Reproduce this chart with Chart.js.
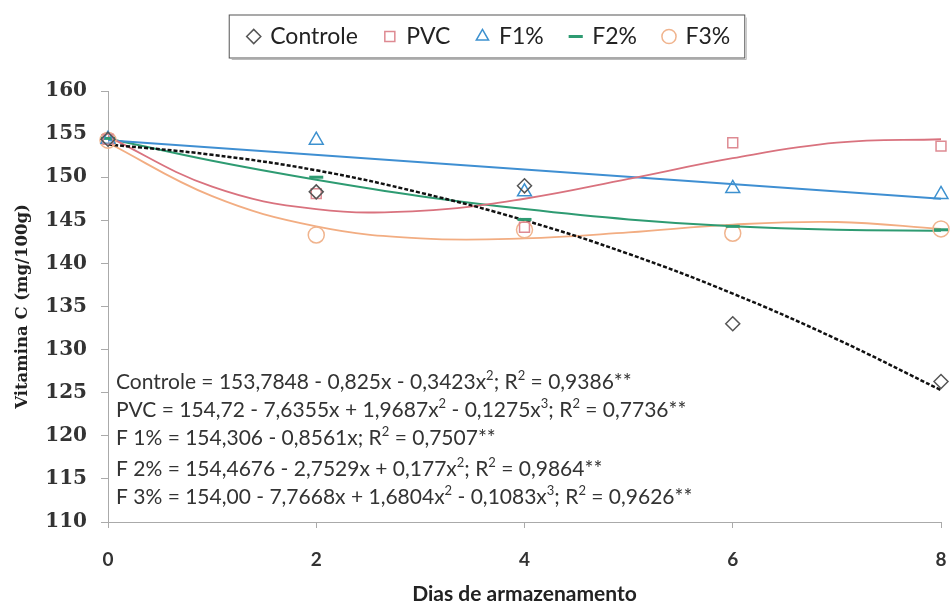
<!DOCTYPE html>
<html>
<head>
<meta charset="utf-8">
<script src="https://cdn.jsdelivr.net/npm/chart.js@4"></script>
<style>
  html, body { margin: 0; padding: 0; background: #fff; }
  #wrap { width: 951px; height: 607px; }
</style>
</head>
<body>
<div id="wrap"><canvas id="chart"></canvas></div>
<script>
// Observed values (days of storage)
const days = [0, 2, 4, 6, 8];
const controle = [154.4, 148.3, 149.0, 133.0, 126.3];
const pvc = [154.4, 148.1, 144.2, 154.0, 153.6];
const f1 = [154.4, 154.3, 148.3, 148.7, 148.0];
const f2 = [154.5, 150.0, 145.1, 144.3, 143.9];
const f3 = [154.3, 143.3, 143.9, 143.5, 144.0];

// Trend curves at each day
const trendDays = [0, 1, 2, 3, 4, 5, 6, 7, 8];
const controleFit = [153.8, 152.6, 150.8, 148.2, 145.0, 141.1, 136.5, 131.2, 125.3];
const pvcFit = [154.7, 148.9, 146.3, 146.1, 147.5, 149.8, 152.2, 154.0, 154.4];
const f1Days = [0, 8];
const f1Fit = [154.3, 147.5];
const f2Fit = [154.5, 151.9, 149.7, 147.8, 146.3, 145.1, 144.3, 143.9, 143.8];
const f3Fit = [154.0, 147.8, 144.3, 142.9, 142.9, 143.6, 144.5, 144.8, 144.0];

const yTicks = [110, 115, 120, 125, 130, 135, 140, 145, 150, 155, 160];

const equations = [
    'Controle = 153,7848 - 0,825x - 0,3423x^2; R^2 = 0,9386**',
    'PVC = 154,72 - 7,6355x + 1,9687x^2 - 0,1275x^3; R^2 = 0,7736**',
    'F 1% = 154,306 - 0,8561x; R^2 = 0,7507**',
    'F 2% = 154,4676 - 2,7529x + 0,177x^2; R^2 = 0,9864**',
    'F 3% = 154,00 - 7,7668x + 1,6804x^2 - 0,1083x^3; R^2 = 0,9626**'
];

const legendShift = 12;

function pts(xs, ys) {
    return xs.map((x, i) => ({ x: x, y: ys[i] }));
}

function markerSet(label, values, style, color, size, width) {
    return {
        label: label,
        data: pts(days, values),
        showLine: false,
        clip: false,
        pointStyle: style,
        pointRadius: size,
        pointBorderColor: color,
        pointBackgroundColor: 'rgba(255,255,255,0)',
        pointBorderWidth: width,
        borderColor: color,
        backgroundColor: 'rgba(255,255,255,0)'
    };
}

function trendSet(xs, values, color, width, dash) {
    return {
        label: '',
        data: pts(xs, values),
        showLine: true,
        pointRadius: 0,
        borderColor: color,
        borderWidth: width,
        borderDash: dash || [],
        tension: 0.4,
        fill: false
    };
}

// Equations block inside the plot area
const equationPlugin = {
    id: 'equations',
    afterDatasetsDraw(chart) {
        const ctx = chart.ctx;
        const area = chart.chartArea;
        const offsets = [133, 105, 77, 46, 18];
        ctx.save();
        ctx.fillStyle = '#333';
        ctx.textBaseline = 'alphabetic';
        equations.forEach((line, i) => {
            let x = area.left + 8;
            const y = area.bottom - offsets[i];
            const parts = line.split(/\^(\d)/);
            parts.forEach((p, j) => {
                if (j % 2 === 1) {
                    ctx.font = '13px Lato';
                    ctx.fillText(p, x, y - 9);
                } else {
                    ctx.font = '21px Lato';
                    ctx.fillText(p, x, y);
                }
                x += ctx.measureText(p).width;
            });
        });
        ctx.restore();
    }
};

// Extra room under the legend, and nudge it a little to the right
const legendSpacePlugin = {
    id: 'legendSpace',
    beforeInit(chart) {
        const legend = chart.legend;
        const fit = legend.fit;
        legend.fit = function () {
            fit.call(this);
            this.height += 31;
        };
        const draw = legend.draw;
        legend.draw = function () {
            chart.ctx.save();
            chart.ctx.translate(legendShift, -2);
            draw.call(this);
            chart.ctx.restore();
        };
    }
};

// Border around the legend entries
const legendBoxPlugin = {
    id: 'legendBox',
    afterDraw(chart) {
        const boxes = chart.legend.legendHitBoxes;
        if (!boxes || !boxes.length) return;
        const left = Math.min(...boxes.map(b => b.left)) - 20 + legendShift;
        const right = Math.max(...boxes.map(b => b.left + b.width)) + 14 + legendShift;
        const midY = boxes[0].top + boxes[0].height / 2 - 2;
        const top = midY - 22;
        const bottom = midY + 21;
        const ctx = chart.ctx;
        ctx.save();
        ctx.strokeStyle = '#555';
        ctx.lineWidth = 1;
        ctx.strokeRect(left + 0.5, top + 0.5, right - left, bottom - top);
        ctx.strokeStyle = '#bbb';
        ctx.beginPath();
        ctx.moveTo(right + 2, top + 3);
        ctx.lineTo(right + 2, bottom + 2);
        ctx.lineTo(left + 3, bottom + 2);
        ctx.stroke();
        ctx.restore();
    }
};

const ctx = document.getElementById('chart').getContext('2d');
new Chart(ctx, {
    type: 'scatter',
    data: {
        datasets: [
            markerSet('Controle', controle, 'rectRot', '#555', 7, 1.5),
            markerSet('PVC', pvc, 'rect', '#de8a92', 7, 1.5),
            markerSet('F1%', f1, 'triangle', '#3d91cf', 8, 1.5),
            markerSet('F2%', f2, 'line', '#2e9b72', 7, 3),
            markerSet('F3%', f3, 'circle', '#f0b48e', 8, 1.5),
            trendSet(trendDays, controleFit, '#111', 2.5, [4, 2]),
            trendSet(trendDays, pvcFit, '#d9727e', 1.8),
            trendSet(f1Days, f1Fit, '#3f8fd2', 2),
            trendSet(trendDays, f2Fit, '#2e9b72', 2),
            trendSet(trendDays, f3Fit, '#f2ad82', 1.8)
        ]
    },
    options: {
        responsive: true,
        maintainAspectRatio: false,
        animation: false,
        layout: { padding: { left: 0, right: -4, top: 0, bottom: 0 } },
        plugins: {
            tooltip: { enabled: false },
            legend: {
                position: 'top',
                labels: {
                    usePointStyle: true,
                    boxWidth: 10,
                    boxHeight: 10,
                    padding: 27,
                    color: '#222',
                    font: { family: 'Lato', size: 23 },
                    filter: item => item.datasetIndex < 5
                }
            }
        },
        scales: {
            x: {
                type: 'linear',
                min: 0,
                max: 8,
                ticks: {
                    stepSize: 2,
                    color: '#333',
                    padding: 20,
                    font: { family: 'Lato', size: 19, weight: 'bold' }
                },
                grid: { drawOnChartArea: false, tickLength: 6, color: '#aaa' },
                border: { color: '#aaa' },
                title: {
                    display: true,
                    text: 'Dias de armazenamento',
                    color: '#222',
                    font: { family: 'Lato', size: 21, weight: 'bold' },
                    padding: { top: 8, bottom: 0 }
                },
                afterFit: s => { s.height = 85; s.paddingRight = 0; }
            },
            y: {
                min: 110,
                max: 160,
                afterBuildTicks: s => { s.ticks = yTicks.map(v => ({ value: v })); },
                ticks: {
                    color: '#333',
                    padding: 14,
                    font: { family: 'DejaVu Serif', size: 20, weight: 'bold' }
                },
                grid: { drawOnChartArea: false, tickLength: 7, color: '#aaa' },
                border: { color: '#aaa' },
                title: {
                    display: true,
                    text: 'Vitamina C (mg/100g)',
                    color: '#222',
                    font: { family: 'DejaVu Serif', size: 16.5, weight: 'bold' },
                    padding: { top: 13, bottom: 0 }
                },
                afterFit: s => { s.width = 108; }
            }
        }
    },
    plugins: [legendSpacePlugin, equationPlugin, legendBoxPlugin]
});
</script>
</body>
</html>
